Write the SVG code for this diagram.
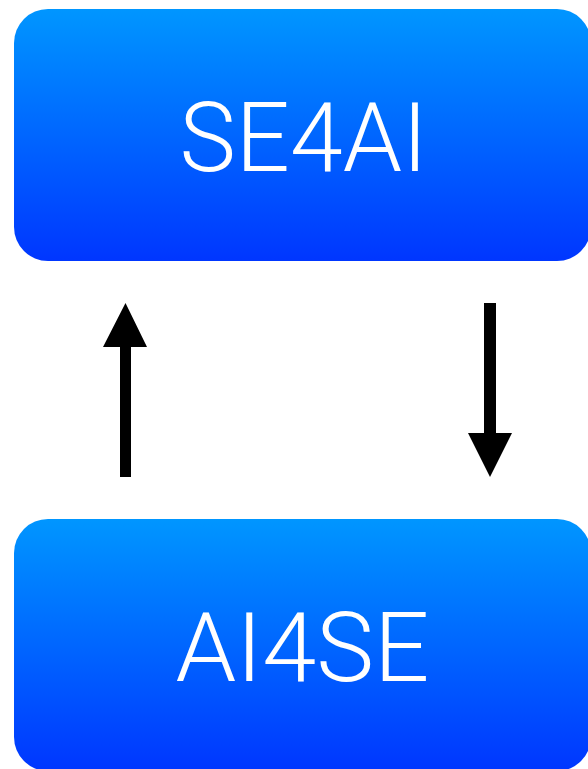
<svg xmlns="http://www.w3.org/2000/svg" width="588" height="769" viewBox="0 0 588 769">
<defs>
<linearGradient id="g" x1="0" y1="0" x2="0" y2="1">
<stop offset="0" stop-color="#0096FF"/>
<stop offset="1" stop-color="#0036FF"/>
</linearGradient>
<style>
.box{fill:url(#g)}
.lbl{fill:#fff;font-family:Roboto,"Liberation Sans",sans-serif;font-weight:300;font-size:96px;text-anchor:middle}
.arr{fill:#000}
</style>
</defs>
<g id="se4ai">
<rect class="box" x="14" y="9" width="577" height="252" rx="34"/>
<text class="lbl" x="303.5" y="171" textLength="248" lengthAdjust="spacingAndGlyphs">SE4AI</text>
</g>
<g id="ai4se">
<rect class="box" x="14" y="519" width="577" height="252" rx="34"/>
<text class="lbl" x="302.5" y="681" textLength="254" lengthAdjust="spacingAndGlyphs">AI4SE</text>
</g>
<g id="connectors">
<path class="arr" d="M120,477 L131,477 L131,347 L147,347 L125.5,303 L103,347 L120,347 Z"/>
<path class="arr" d="M484,303 L496,303 L496,433 L512,433 L490,477 L468,433 L484,433 Z"/>
</g>
</svg>
